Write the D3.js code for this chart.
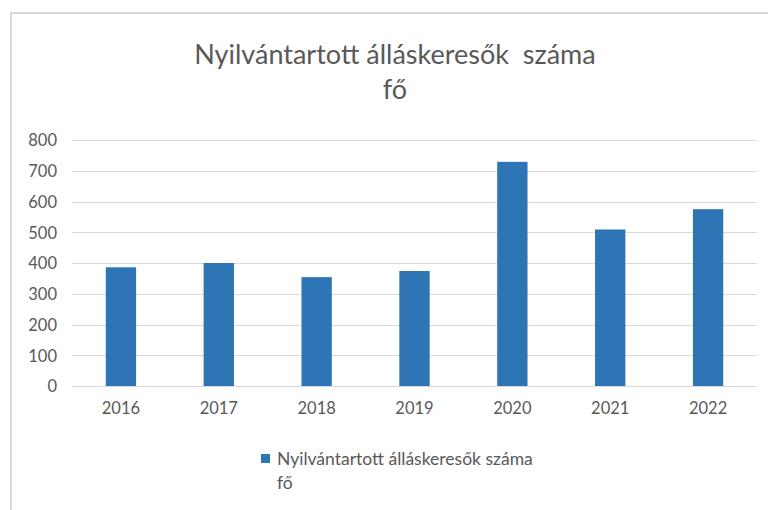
<!DOCTYPE html>
<head>
<meta charset="utf-8">
<style>
body {
  margin: 0;
  background: #fff;
  font-family: Lato, "Open Sans", sans-serif;
}
.grid line {
  stroke: #d9d9d9;
  stroke-width: 1px;
}
.axis text {
  fill: #595959;
  font-family: Lato, sans-serif;
  font-size: 16.5px;
}
</style>
</head>
<body>
<script src="https://cdn.jsdelivr.net/npm/d3@7/dist/d3.min.js"></script>
<script>
// data
var years = ["2016", "2017", "2018", "2019", "2020", "2021", "2022"];
var values = [386, 400, 354, 374, 729, 509, 575];
var yTicks = [0, 100, 200, 300, 400, 500, 600, 700, 800];
var titleLines = ["Nyilvántartott álláskeresők  száma", "fő"];
var legendLines = ["Nyilvántartott álláskeresők száma", "fő"];

(function() {
	var W = 768, H = 510,
		margin = {top: 140, left: 72},
		plotW = 757 - margin.left,
		plotH = 386 - margin.top;

	var svg = d3.select("body").append("svg")
		.attr("width", W)
		.attr("height", H);

	svg.append("rect").attr("width", W).attr("height", H).attr("fill", "#fff");

	// chart frame (only top and left edges visible)
	svg.append("line").attr("x1", 11).attr("x2", W).attr("y1", 13).attr("y2", 13)
		.attr("stroke", "#d9d9d9").attr("stroke-width", 2);
	svg.append("line").attr("x1", 11).attr("x2", 11).attr("y1", 12).attr("y2", H)
		.attr("stroke", "#d9d9d9").attr("stroke-width", 2);

	// title
	svg.append("g").selectAll("text")
		.data(titleLines)
		.enter().append("text")
		.attr("x", 395)
		.attr("y", function(d, i) { return 64 + i * 35; })
		.attr("text-anchor", "middle")
		.attr("fill", "#595959")
		.style("font-size", "27px")
		.style("white-space", "pre")
		.text(function(d) { return d; });

	var x = d3.scaleBand()
		.domain(years)
		.range([0, plotW])
		.paddingInner(0.69)
		.paddingOuter(0.345);

	var y = d3.scaleLinear()
		.domain([0, 800])
		.range([plotH, 0]);

	var g = svg.append("g")
		.attr("transform", "translate(" + margin.left + "," + margin.top + ")");

	// gridlines
	g.append("g").attr("class", "grid")
		.selectAll("line")
		.data(yTicks)
		.enter().append("line")
		.attr("x1", 0).attr("x2", plotW)
		.attr("y1", function(d) { return Math.round(y(d)) + 0.5; })
		.attr("y2", function(d) { return Math.round(y(d)) + 0.5; });

	// bars
	g.selectAll(".bar")
		.data(values)
		.enter().append("rect")
		.attr("class", "bar")
		.attr("x", function(d, i) { return x(years[i]); })
		.attr("width", x.bandwidth())
		.attr("y", function(d) { return y(d); })
		.attr("height", function(d) { return y(0) - y(d); })
		.attr("fill", "#2e75b6");

	// y axis
	var yAxis = g.append("g").attr("class", "axis")
		.call(d3.axisLeft(y).tickValues(yTicks).tickSize(0).tickPadding(15));
	yAxis.select(".domain").remove();
	yAxis.selectAll("text").attr("dy", "0.35em");

	// x axis
	var xAxis = g.append("g").attr("class", "axis")
		.attr("transform", "translate(0," + plotH + ")")
		.call(d3.axisBottom(x).tickSize(0).tickPadding(16));
	xAxis.select(".domain").remove();

	// legend
	var lg = svg.append("g").attr("transform", "translate(261,454)");
	lg.append("rect").attr("width", 9).attr("height", 9).attr("fill", "#2e75b6");
	lg.selectAll("text")
		.data(legendLines)
		.enter().append("text")
		.attr("x", 16)
		.attr("y", function(d, i) { return 11 + i * 24; })
		.attr("fill", "#595959")
		.style("font-size", "17.5px")
		.text(function(d) { return d; });
})();
</script>
</body>
